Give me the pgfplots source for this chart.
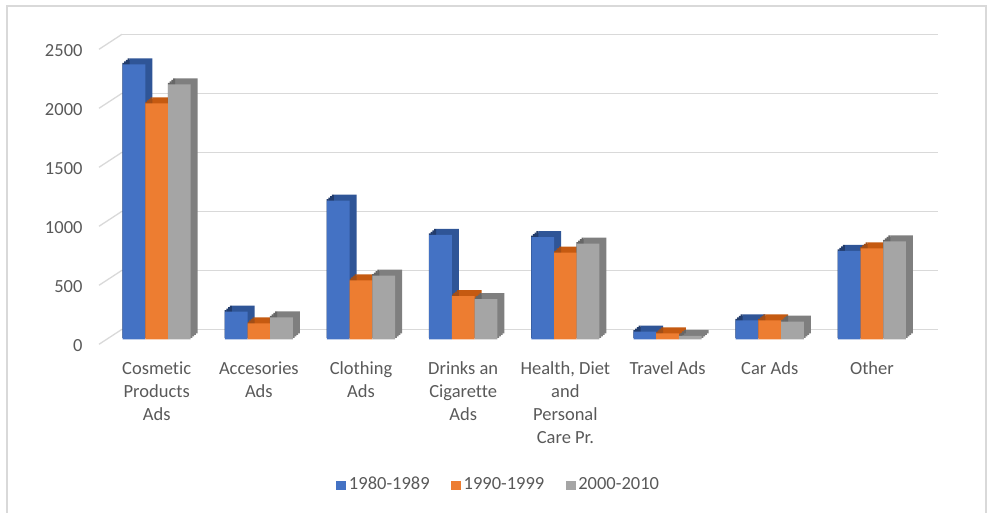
\documentclass[border=0pt]{standalone}
\usepackage{fontspec}
\setmainfont{Carlito}[Ligatures=NoCommon]
\usepackage{pgfplots}
\usepackage{pgfplotstable}
\pgfplotsset{compat=1.18}
\definecolor{cA}{HTML}{4472C4}
\definecolor{cAtop}{HTML}{2F5597}
\definecolor{cAside}{HTML}{223C6C}
\definecolor{cB}{HTML}{ED7D31}
\definecolor{cBtop}{HTML}{C55A11}
\definecolor{cBside}{HTML}{A24E17}
\definecolor{cC}{HTML}{A5A5A5}
\definecolor{cCtop}{HTML}{7F7F7F}
\definecolor{cCside}{HTML}{676767}
\definecolor{gridc}{HTML}{D9D9D9}
\definecolor{textc}{HTML}{595959}
\definecolor{borderc}{HTML}{D9D9D9}

\pgfplotstableread{
x a b c
0 2330 2000 2160
1 235 135 185
2 1175 500 540
3 885 365 340
4 865 735 810
5 65 50 30
6 160 160 150
7 750 770 830
}\datatable

\pgfplotsset{
  baraxis/.style={
    width=817.4pt, height=295pt, scale only axis, anchor=south west,
    xmin=-0.5, xmax=7.5, ymin=0, ymax=2500, clip=false,
  },
  bw/.style={ybar, bar width=22.7pt, draw=none},
  sidestrip/.style={ybar, bar width=2pt, draw=none},
}

\begin{document}
\fontsize{18.5}{23}\selectfont
\begin{tikzpicture}[x=1pt,y=1pt]
\path[use as bounding box] (0,0) rectangle (991,513);
\draw[borderc, line width=1.2pt] (7,-5) rectangle (986,507);

% back wall with gridlines and value labels
\begin{axis}[at={(122pt,183.7pt)}, anchor=south west,
  width=816pt, height=295pt, scale only axis,
  xmin=0, xmax=1, ymin=0, ymax=2500, clip=false,
  xtick=\empty, ytick={0,500,1000,1500,2000,2500},
  yticklabels={0,500,1000,1500,2000,2500},
  ymajorgrids, grid style={gridc, line width=1.3pt},
  axis line style={draw=none}, major tick style={draw=none},
  yticklabel style={anchor=east, inner sep=0pt, xshift=-39.3pt, yshift=-16.6pt, text=textc},
]
\pgfplotsinvokeforeach{0,500,1000,1500,2000,2500}{
  \draw[gridc, line width=1.3pt] (axis cs:0,#1) -- ++(-23pt,-15pt);
}
\end{axis}

% top faces: swept copies, back to front
\foreach \k in {4,3,2,1} {
\begin{axis}[baraxis, hide axis, at={({(105.6+1.75*\k)*1pt},{(173.7+1.5*\k)*1pt})}]
\addplot[bw, bar shift=-22.7pt, fill=cAtop] table[x=x,y=a]{\datatable};
\addplot[bw, bar shift=0pt, fill=cBtop] table[x=x,y=b]{\datatable};
\addplot[bw, bar shift=22.7pt, fill=cCtop] table[x=x,y=c]{\datatable};
\end{axis}
}
% side faces: thin strips at the right edge, swept
\foreach \k in {1,2,3,4} {
\begin{axis}[baraxis, hide axis, at={({(105.6+1.75*\k)*1pt},{(173.7+1.5*\k)*1pt})}]
\addplot[sidestrip, bar shift=-35.05pt, fill=cAside] table[x=x,y=a]{\datatable};
\addplot[sidestrip, bar shift=-12.35pt, fill=cBside] table[x=x,y=b]{\datatable};
\addplot[sidestrip, bar shift=10.35pt, fill=cCside] table[x=x,y=c]{\datatable};
\end{axis}
}

% front faces
\begin{axis}[baraxis, at={(105.6pt,173.7pt)},
  axis line style={draw=none}, major tick style={draw=none},
  ytick=\empty, xtick={0,...,7},
  xticklabels={Cosmetic\\Products\\Ads, Accesories\\Ads, Clothing\\Ads,
    Drinks an\\Cigarette\\Ads, {Health, Diet\\and\\Personal\\Care Pr.},
    Travel Ads, Car Ads, Other},
  xticklabel style={align=center, anchor=north, inner sep=0pt, yshift=-22.5pt, text=textc},
  legend columns=3,
  legend style={at={(0.4813,-0.494)}, anchor=center, draw=none, fill=none,
    text=textc, nodes={inner sep=2.5pt},
    /tikz/every even column/.append style={column sep=19pt}},
  legend image code/.code={\fill[#1] (0pt,-4.5pt) rectangle (10pt,4.5pt);},
]
\addplot[bw, bar shift=-22.7pt, fill=cA] table[x=x,y=a]{\datatable};
\addplot[bw, bar shift=0pt, fill=cB] table[x=x,y=b]{\datatable};
\addplot[bw, bar shift=22.7pt, fill=cC] table[x=x,y=c]{\datatable};
\legend{1980-1989,1990-1999,2000-2010}
\end{axis}
\end{tikzpicture}
\end{document}
